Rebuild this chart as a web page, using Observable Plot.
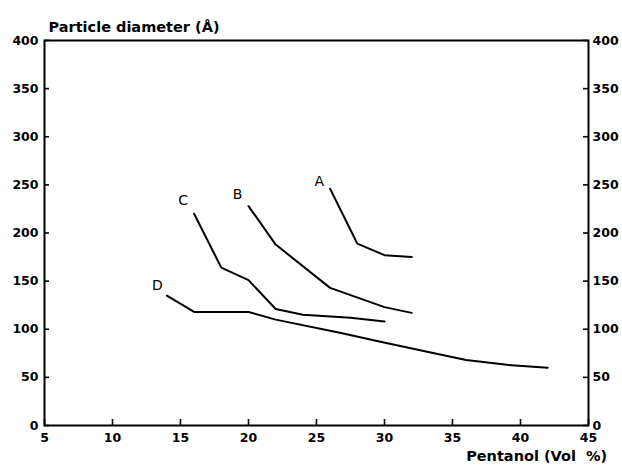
<!DOCTYPE html>
<html>
<head>
<meta charset="utf-8">
<script src="https://cdn.jsdelivr.net/npm/d3@7"></script>
<script src="https://cdn.jsdelivr.net/npm/@observablehq/plot@0.6"></script>
<style>
  html, body { margin: 0; padding: 0; background: white; }
</style>
</head>
<body>
<div id="chart"></div>
<script>
// ---- data ----
const curveNames = ["A", "B", "C", "D"];
const pentanolA = [26, 28, 30, 32];
const diameterA = [246, 189, 177, 175];
const pentanolB = [20, 22, 26, 30, 32];
const diameterB = [228, 188, 143, 123, 117];
const pentanolC = [16, 18, 20, 22, 24, 27.5, 30];
const diameterC = [220, 164, 151, 121, 115, 112, 108];
const pentanolD = [14, 16, 20, 22, 26.8, 29.7, 34, 36, 39, 42];
const diameterD = [135, 118, 118, 110, 96, 87, 74, 68, 63, 60];
const labelPentanol = [25.2, 19.2, 15.2, 13.3];
const labelDiameter = [254, 240, 234, 145];
const xTicks = [5, 10, 15, 20, 25, 30, 35, 40, 45];
const yTicks = [0, 50, 100, 150, 200, 250, 300, 350, 400];
const yTitle = "Particle diameter (Å)";
const xTitle = "Pentanol (Vol  %)";

const seriesX = [pentanolA, pentanolB, pentanolC, pentanolD];
const seriesY = [diameterA, diameterB, diameterC, diameterD];
const rows = curveNames.flatMap((name, i) =>
  seriesX[i].map((x, j) => ({curve: name, pentanol: x, diameter: seriesY[i][j]})));
const labels = curveNames.map((name, i) => ({curve: name, pentanol: labelPentanol[i], diameter: labelDiameter[i]}));

const W = 622, H = 468, ML = 44, MR = 34, MT = 40, MB = 43;
const frameW = W - ML - MR, frameH = H - MT - MB;
const tickFont = {fontSize: 12.5, fontWeight: "bold", fontFamily: "'DejaVu Sans', sans-serif"};
const titleFont = {fontSize: 14.5, fontWeight: "bold", fontFamily: "'DejaVu Sans', sans-serif"};

const chart = Plot.plot({
  width: W,
  height: H,
  marginLeft: ML,
  marginRight: MR,
  marginTop: MT,
  marginBottom: MB,
  x: {domain: [5, 45]},
  y: {domain: [0, 400]},
  style: {background: "white", color: "black"},
  marks: [
    Plot.frame({stroke: "black", strokeWidth: 2}),
    // inward tick marks
    Plot.tickY(yTicks, {y: d => d, insetRight: frameW - 5, stroke: "black", strokeWidth: 1.6}),
    Plot.tickY(yTicks, {y: d => d, insetLeft: frameW - 5, stroke: "black", strokeWidth: 1.6}),
    Plot.tickX(xTicks, {x: d => d, insetTop: frameH - 6, stroke: "black", strokeWidth: 1.6}),
    // tick labels
    Plot.axisY(yTicks, {anchor: "left", label: null, tickSize: 0, tickPadding: 6, tickFormat: d => String(d), ...tickFont}),
    Plot.axisY(yTicks, {anchor: "right", label: null, tickSize: 0, tickPadding: 4, tickFormat: d => String(d), ...tickFont}),
    Plot.axisX(xTicks, {anchor: "bottom", label: null, tickSize: 0, tickPadding: 8, tickFormat: d => String(d), ...tickFont}),
    // curves
    Plot.line(rows, {x: "pentanol", y: "diameter", z: "curve", stroke: "black", strokeWidth: 2}),
    Plot.text(labels, {x: "pentanol", y: "diameter", text: "curve", fontSize: 14, fontFamily: "'DejaVu Sans', sans-serif", fill: "black"}),
    // axis titles
    Plot.text([yTitle], {frameAnchor: "top-left", text: d => d, dx: 4, dy: -19, textAnchor: "start", ...titleFont}),
    Plot.text([xTitle], {frameAnchor: "bottom-right", text: d => d, dx: 18.7, dy: 35.5, textAnchor: "end", ...titleFont})
  ]
});
document.getElementById("chart").append(chart);
</script>
</body>
</html>
